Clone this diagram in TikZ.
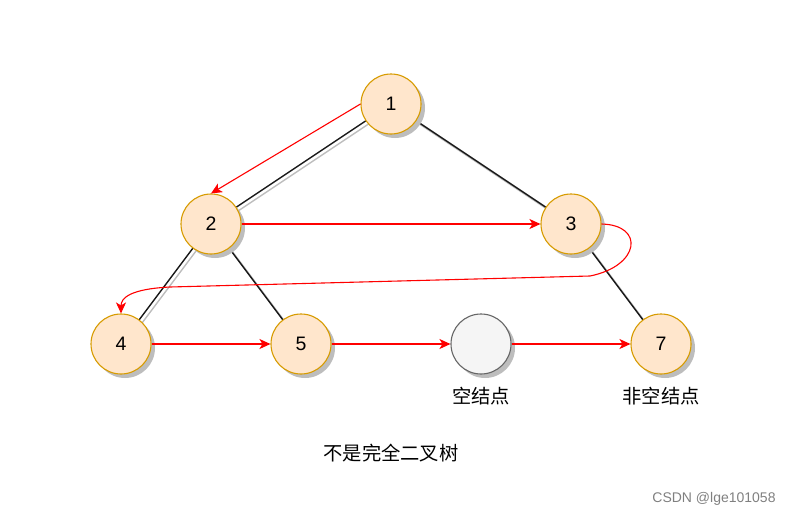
\documentclass[tikz,border=0pt]{standalone}
\usepackage{fontspec}
\setmainfont{Liberation Sans}
\newfontfamily\cjk{Noto Sans CJK SC}
\usetikzlibrary{shadows,arrows.meta}
\definecolor{nodefill}{HTML}{FFE6CC}
\definecolor{nodedraw}{HTML}{D79B00}
\definecolor{emptyfill}{HTML}{F5F5F5}
\definecolor{emptydraw}{HTML}{666666}
\definecolor{shadowgray}{HTML}{BDBDBD}
\begin{document}
\begin{tikzpicture}[x=1pt,y=-1pt,
  treenode/.style={circle,minimum size=60pt,inner sep=0pt,line width=1.1pt,
    draw=nodedraw,fill=nodefill,font=\fontsize{19.5}{20}\selectfont,
    drop shadow={shadow xshift=4pt,shadow yshift=-4pt,fill=shadowgray,opacity=1}},
  emptynode/.style={treenode,draw=emptydraw,fill=emptyfill},
  edge/.style={line width=1.4pt,black!90},
  edgeshadow/.style={line width=1.4pt,shadowgray,transform canvas={xshift=3pt,yshift=-3pt}},
  redarrow/.style={line width=1.1pt,red,-{Stealth[length=11pt,width=10pt,inset=3pt]}},
  label/.style={font=\cjk\fontsize{19.3}{20}\selectfont}]
\useasboundingbox (0,0) rectangle (794,517);
% node centres
\coordinate (c1) at (391,104);
\coordinate (c2) at (211,224);
\coordinate (c3) at (571,224);
\coordinate (c4) at (121,344);
\coordinate (c5) at (301,344);
\coordinate (c6) at (481,344);
\coordinate (c7) at (661,344);
% edge shadows
\draw[edgeshadow] (c1) -- (c2);
\draw[edgeshadow] (c1) -- (c3);
\draw[edgeshadow] (c2) -- (c4);
\draw[edgeshadow] (c2) -- (c5);
\draw[edgeshadow] (c3) -- (c7);
% edges
\draw[edge] (c1) -- (c2);
\draw[edge] (c1) -- (c3);
\draw[edge] (c2) -- (c4);
\draw[edge] (c2) -- (c5);
\draw[edge] (c3) -- (c7);
% nodes
\node[treenode] (n1) at (c1) {1};
\node[treenode] (n2) at (c2) {2};
\node[treenode] (n3) at (c3) {3};
\node[treenode] (n4) at (c4) {4};
\node[treenode] (n5) at (c5) {5};
\node[emptynode] (n6) at (c6) {};
\node[treenode] (n7) at (c7) {7};
% labels
\node[label] (l6) at (481,396) {空结点};
\node[label] (l7) at (661,396) {非空结点};
\node[label] (title) at (391,453) {不是完全二叉树};
\node[font=\fontsize{14}{15}\selectfont,text=gray] (wm) at (714,499) {CSDN @lge101058};
% red traversal arrows
\draw[redarrow] (n1.west) -- (n2.north);
\draw[redarrow] (n2.east) -- (n3.west);
\draw[redarrow] (n3.east) .. controls (645,225) and (640,266) .. (590,276) -- (170,287) .. controls (130,289) and (121,298) .. (n4.north);
\draw[redarrow] (n4.east) -- (n5.west);
\draw[redarrow] (n5.east) -- (n6.west);
\draw[redarrow] (n6.east) -- (n7.west);
\end{tikzpicture}
\end{document}
